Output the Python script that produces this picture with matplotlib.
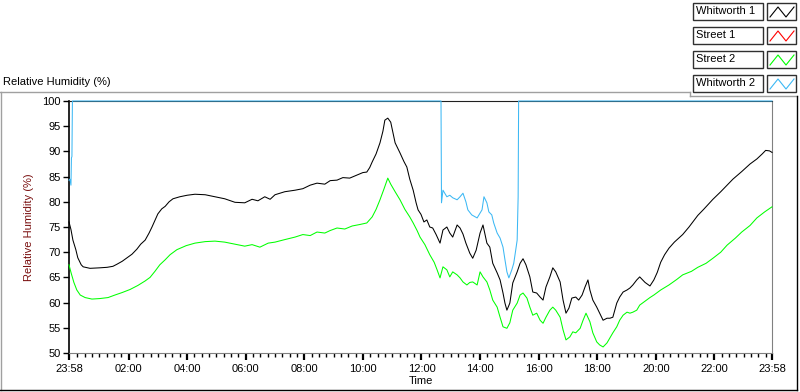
import matplotlib
matplotlib.use("Agg")
import matplotlib.pyplot as plt
from matplotlib.lines import Line2D
from matplotlib.patches import Rectangle

plt.rcParams['font.family'] = ['Liberation Sans', 'DejaVu Sans']
plt.rcParams['font.size'] = 8

# time in minutes after the 23:58 start
t_w1 = [0, 4, 8, 14, 18, 25, 29, 43, 63, 78, 90, 98, 109, 119, 129, 139, 147, 156, 164, 170,
        176, 182, 190, 197, 205, 213, 227, 242, 258, 279, 299, 319, 340, 360, 375, 387, 401,
        412, 422, 442, 463, 479, 494, 508, 524, 535, 549, 561, 575, 590, 602, 610, 616, 621,
        629, 637, 643, 647, 653, 659, 664, 668, 674, 678, 686, 692, 698, 705, 711, 715, 721,
        727, 733, 739, 745, 752, 760, 766, 774, 780, 786, 795, 801, 807, 813, 821, 827, 834,
        842, 848, 856, 862, 868, 877, 883, 889, 893, 897, 903, 909, 918, 924, 930, 936, 944,
        950, 958, 965, 971, 977, 985, 991, 997, 1006, 1012, 1018, 1024, 1030, 1038, 1044,
        1051, 1057, 1063, 1067, 1073, 1081, 1087, 1094, 1102, 1108, 1114, 1122, 1128, 1135,
        1143, 1149, 1155, 1163, 1169, 1180, 1190, 1198, 1205, 1212, 1220, 1229, 1240, 1257,
        1270, 1288, 1300, 1319, 1335, 1348, 1360, 1378, 1395, 1409, 1420, 1427, 1435, 1440]
rh_w1 = [76.0, 74.5, 72.4, 70.5, 68.9, 67.5, 67.1, 66.8, 66.9, 67.0, 67.2, 67.6, 68.2, 68.9,
         69.6, 70.6, 71.6, 72.4, 73.8, 75.0, 76.3, 77.6, 78.6, 79.1, 80.0, 80.6, 81.0, 81.3,
         81.5, 81.4, 81.0, 80.6, 79.9, 79.8, 80.5, 80.2, 81.0, 80.5, 81.4, 82.0, 82.3, 82.6,
         83.3, 83.7, 83.5, 84.2, 84.3, 84.8, 84.7, 85.3, 85.8, 85.9, 86.8, 87.9, 89.5, 91.7,
         94.0, 96.2, 96.6, 95.8, 93.5, 91.7, 90.5, 89.7, 88.0, 86.9, 84.5, 82.3, 79.8, 78.4,
         77.5, 76.0, 76.4, 75.0, 74.8, 73.5, 71.8, 74.4, 75.0, 73.8, 73.0, 75.4, 74.8, 73.6,
         71.8, 69.8, 68.8, 70.4, 73.8, 75.4, 71.8, 71.0, 67.8, 65.9, 64.5, 61.9, 59.9, 58.5,
         59.9, 63.9, 66.1, 67.8, 68.7, 67.5, 65.1, 62.1, 61.9, 61.1, 60.5, 63.1, 65.1, 66.9,
         66.1, 64.1, 60.5, 57.9, 58.9, 60.9, 61.1, 60.5, 61.5, 63.1, 64.5, 62.5, 60.5, 59.1,
         57.9, 56.5, 56.9, 56.9, 57.1, 59.9, 61.1, 62.1, 62.5, 62.9, 63.5, 64.5, 65.1, 64.0,
         63.3, 64.5, 66.0, 68.0, 69.5, 70.8, 72.0, 73.5, 75.0, 77.3, 78.5, 80.5, 82.0, 83.3,
         84.5, 86.0, 87.5, 88.5, 89.5, 90.2, 90.1, 89.8]

t_s1 = []
rh_s1 = []

t_s2 = [0, 4, 10, 16, 23, 33, 47, 63, 80, 94, 109, 125, 141, 156, 166, 176, 186, 197, 207, 221,
        240, 258, 279, 299, 319, 340, 360, 375, 391, 408, 422, 442, 463, 479, 494, 508, 524,
        535, 549, 565, 580, 596, 610, 621, 629, 637, 645, 653, 659, 668, 678, 688, 698, 705,
        713, 719, 729, 739, 748, 754, 760, 766, 774, 780, 786, 795, 801, 807, 815, 821, 827,
        836, 842, 848, 856, 862, 868, 877, 883, 889, 897, 903, 909, 918, 924, 930, 938, 944,
        950, 958, 965, 971, 977, 985, 991, 997, 1006, 1012, 1018, 1026, 1032, 1038, 1047,
        1053, 1059, 1067, 1073, 1081, 1087, 1094, 1102, 1108, 1114, 1122, 1128, 1135, 1143,
        1149, 1155, 1163, 1169, 1180, 1190, 1198, 1212, 1229, 1245, 1257, 1275, 1288, 1305,
        1319, 1335, 1348, 1365, 1378, 1395, 1409, 1425, 1440]
rh_s2 = [67.5, 66.0, 64.0, 62.5, 61.5, 61.0, 60.7, 60.8, 61.0, 61.5, 62.0, 62.6, 63.4, 64.3,
         65.0, 66.2, 67.5, 68.5, 69.5, 70.5, 71.3, 71.8, 72.1, 72.2, 72.0, 71.6, 71.2, 71.5,
         71.0, 71.8, 72.0, 72.5, 73.0, 73.5, 73.3, 74.0, 73.8, 74.3, 74.8, 74.6, 75.2, 75.5,
         75.8, 77.0, 78.5, 80.4, 82.5, 84.7, 83.5, 82.0, 80.4, 78.5, 77.0, 75.8, 74.3, 73.0,
         71.5, 69.5, 68.0, 66.5, 64.9, 67.1, 66.5, 65.1, 66.1, 65.5, 64.9, 64.1, 63.5, 64.0,
         64.1, 63.5, 66.1, 65.1, 64.1, 62.5, 60.5, 59.1, 57.1, 55.2, 54.9, 56.0, 58.5, 59.9,
         61.5, 61.9, 60.9, 59.1, 57.5, 57.9, 56.5, 55.9, 57.1, 58.5, 59.1, 58.5, 57.1, 54.6,
         52.6, 53.2, 54.2, 54.0, 54.9, 56.5, 57.9, 56.2, 54.0, 52.2, 51.6, 51.2, 52.0, 53.0,
         54.0, 55.2, 56.5, 57.5, 58.1, 57.9, 58.1, 58.5, 59.5, 60.3, 61.0, 61.5, 62.5, 63.5,
         64.6, 65.5, 66.2, 67.0, 67.8, 68.8, 70.0, 71.4, 72.8, 74.0, 75.3, 76.8, 78.0, 79.0]

t_w2 = [0, 2, 4, 5, 6, 7, 762, 763, 766, 774, 780, 786, 795, 801, 807, 813, 817, 825, 836,
        846, 850, 856, 860, 866, 870, 877, 883, 889, 893, 897, 901, 907, 911, 915, 918, 920,
        921, 1440]
rh_w2 = [84.3, 84.5, 83.3, 88.7, 89.0, 100.0, 100.0, 79.8, 82.3, 81.0, 81.3, 80.8, 80.4,
         81.0, 81.7, 80.0, 78.4, 77.4, 76.8, 78.4, 81.0, 79.8, 78.0, 77.4, 75.8, 73.8, 72.8,
         71.0, 68.5, 66.1, 64.9, 66.5, 67.8, 70.4, 72.4, 81.0, 100.0, 100.0]

names = ['Whitworth 1', 'Street 1', 'Street 2', 'Whitworth 2']
colors = ['#000000', '#ff0000', '#00ff00', '#3cb8f4']

tick_pos = [0, 122, 242, 362, 482, 602, 722, 842, 962, 1082, 1202, 1322, 1440]
tick_lab = ['23:58', '02:00', '04:00', '06:00', '08:00', '10:00', '12:00', '14:00',
            '16:00', '18:00', '20:00', '22:00', '23:58']

W, H = 800, 392
fig = plt.figure(figsize=(W / 100, H / 100), dpi=100)
ax = fig.add_axes([69 / W, 1 - 353 / H, (772 - 69) / W, (353 - 101) / H])

series = [(t_w1, rh_w1), (t_s1, rh_s1), (t_s2, rh_s2), (t_w2, rh_w2)]
for (tt, rr), c in zip(series, colors):
    ax.plot(tt, rr, color=c, lw=0.75, clip_on=False, zorder=3)

ax.set_xlim(0, 1440)
ax.set_ylim(50, 100)
ax.set_yticks(range(50, 101, 5))
ax.set_xticks(tick_pos)
ax.set_xticklabels(tick_lab)
minor = [2 + 15 * k for k in range(1, 96) if k % 8 != 0]
ax.set_xticks(minor, minor=True)
ax.tick_params(axis='y', direction='out', length=4, width=1, pad=2, labelsize=8)
ax.tick_params(axis='x', which='major', direction='out', length=5, width=1.6, pad=3, labelsize=8)
ax.tick_params(axis='x', which='minor', direction='out', length=3, width=1)
ax.spines['left'].set_color('black')
ax.spines['left'].set_linewidth(1.2)
ax.spines['bottom'].set_color('#808080')
ax.spines['right'].set_color('#808080')
ax.spines['top'].set_color('#202020')
ax.set_xlabel('Time', fontsize=8, labelpad=1)
ax.set_ylabel('Relative Humidity (%)', fontsize=8, color='#7a1010', labelpad=6)

fig.text(3 / W, 1 - 82 / H, 'Relative Humidity (%)', fontsize=8, ha='left', va='center')


def fline(xs, ys, color, lw=1.0):
    fig.add_artist(Line2D([x / W for x in xs], [1 - y / H for y in ys],
                          color=color, lw=lw, transform=fig.transFigure))


# outer frame
fline([1, 1], [92, 390], '#a0a0a0')
fline([0, 690], [92, 92], '#a0a0a0')
fline([690, 690], [92, 96], '#a0a0a0')
fline([690, 797], [96, 96], '#a0a0a0')
fline([797, 797], [96, 390], '#000000')
fline([0, 797], [390, 390], '#000000')

# legend
rows = [3, 27, 51, 75]
for name, c, y0 in zip(names, colors, rows):
    fig.add_artist(Rectangle((693 / W, 1 - (y0 + 17) / H), 70 / W, 17 / H, fill=False,
                             edgecolor='#303030', lw=1.0, transform=fig.transFigure))
    fig.text(696 / W, 1 - (y0 + 8.5) / H, name, fontsize=8, ha='left', va='center')
    fig.add_artist(Rectangle((767 / W, 1 - (y0 + 17) / H), 29 / W, 17 / H, fill=False,
                             edgecolor='#303030', lw=1.0, transform=fig.transFigure))
    fline([770, 778, 786, 794], [y0 + 14, y0 + 4, y0 + 14, y0 + 4], c, lw=0.8)

fig.savefig('out.png', dpi=100)
